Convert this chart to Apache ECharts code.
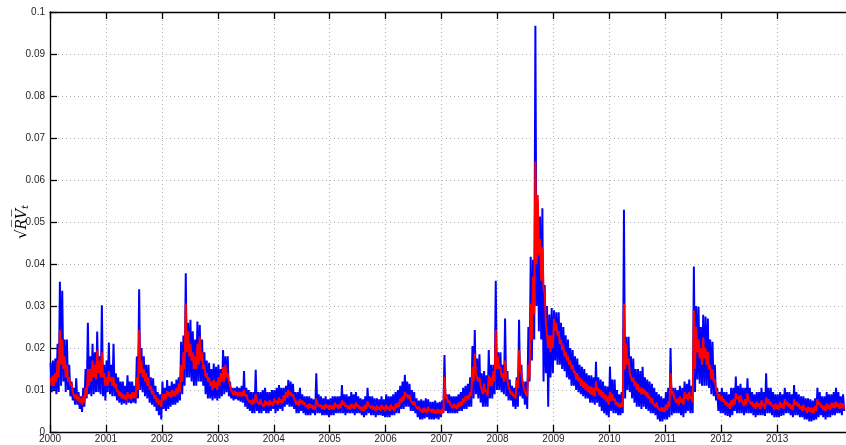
<!DOCTYPE html>
<html><head><meta charset="utf-8">
<script src="https://cdn.jsdelivr.net/npm/echarts@6/dist/echarts.min.js"></script>
<style>html,body{margin:0;padding:0;background:#fff}#c{width:846px;height:445px}</style>
</head><body><div id="c"></div>
<script>
// Tick labels
const yearTicks = [2000,2001,2002,2003,2004,2005,2006,2007,2008,2009,2010,2011,2012,2013];
// Readings per year: 24 half-months, each read as (top, bottom) of the band
const perYear = 48;

const blue2000 = [.0165,.0095,.017,.010,.0175,.009,.021,.0095,.0358,.011,.0336,.012,.022,.0095,.022,.010,.016,.0085,.012,.0075,.0105,.0065,.0128,.0065,.0095,.0055,.0085,.0048,.0105,.006,.015,.008,.026,.009,.018,.0085,.021,.009,.019,.0095,.0239,.0095,.018,.009,.0302,.0085,.016,.0075];
const blue2001 = [.017,.0095,.0213,.009,.016,.0085,.021,.0085,.014,.0075,.013,.007,.012,.0065,.012,.0068,.011,.0065,.0135,.007,.012,.0068,.012,.007,.011,.0068,.018,.008,.034,.010,.020,.0095,.018,.0085,.016,.008,.016,.007,.013,.0065,.0128,.006,.011,.005,.0095,.004,.009,.003];
const blue2002 = [.012,.0055,.0105,.005,.0124,.0055,.011,.006,.012,.0065,.0115,.0065,.0125,.007,.013,.0075,.0215,.009,.023,.011,.0378,.013,.026,.013,.0267,.012,.024,.011,.022,.011,.0263,.012,.0255,.012,.022,.011,.019,.009,.017,.008,.0165,.008,.015,.0075,.0163,.008,.0155,.0075];
const blue2003 = [.016,.008,.015,.0085,.0195,.009,.018,.0095,.018,.0085,.012,.008,.0105,.0075,.0105,.0078,.0108,.0075,.0105,.0072,.011,.007,.0145,.006,.0105,.0055,.010,.005,.0095,.0045,.0095,.0045,.0148,.005,.0095,.0045,.0095,.0045,.010,.005,.0105,.0045,.0095,.0045,.0095,.005,.010,.0055];
const blue2004 = [.010,.0045,.0105,.005,.0112,.0055,.0105,.005,.0105,.006,.011,.0065,.0124,.006,.012,.006,.0115,.0055,.0095,.0045,.0095,.0045,.0105,.005,.009,.0045,.0085,.004,.0085,.004,.0085,.004,.008,.0045,.0078,.004,.014,.0045,.009,.0045,.0085,.004,.008,.004,.0085,.004,.0078,.0035];
const blue2005 = [.008,.004,.0085,.004,.0085,.0045,.0085,.0045,.0085,.0045,.0112,.0045,.009,.004,.009,.0045,.0085,.0045,.0095,.0045,.009,.004,.0095,.0045,.0085,.0045,.008,.004,.0078,.0035,.0085,.004,.0105,.0045,.0085,.004,.0085,.004,.008,.0035,.008,.004,.0078,.004,.0085,.0038,.0078,.0035];
const blue2006 = [.009,.0035,.0085,.0035,.0085,.004,.009,.004,.0095,.0045,.010,.0045,.011,.0055,.012,.0055,.0136,.006,.012,.006,.0115,.005,.010,.005,.0095,.0045,.008,.0035,.0075,.003,.0078,.003,.0075,.0032,.008,.0035,.0078,.003,.0072,.003,.0072,.003,.0075,.0032,.007,.003,.0072,.0035];
const blue2007 = [.0075,.0045,.0183,.005,.009,.0045,.009,.0045,.0085,.0045,.0085,.0045,.0085,.0045,.009,.005,.0095,.005,.0105,.0055,.011,.0055,.0115,.006,.013,.006,.0205,.008,.0243,.009,.0175,.008,.0185,.007,.014,.006,.0145,.006,.0135,.006,.0195,.008,.016,.008,.016,.009,.036,.010];
const blue2008 = [.019,.010,.019,.0095,.016,.009,.027,.0085,.0145,.0075,.0125,.0075,.011,.006,.0105,.0055,.013,.006,.0267,.0085,.016,.008,.012,.0065,.012,.0055,.025,.012,.0417,.017,.041,.022,.0967,.030,.055,.024,.0513,.022,.0533,.012,.035,.014,.030,.006,.028,.013,.0295,.014];
const blue2009 = [.029,.017,.0285,.016,.0285,.016,.026,.015,.025,.0145,.023,.013,.022,.0125,.020,.011,.0195,.011,.018,.010,.0175,.0095,.016,.009,.0155,.0085,.015,.008,.014,.008,.0135,.007,.0135,.007,.013,.0065,.0167,.007,.013,.006,.0125,.005,.012,.0045,.011,.004,.0108,.0035];
const blue2010 = [.0156,.005,.0125,.0045,.0125,.0045,.010,.004,.009,.004,.0095,.0045,.0529,.008,.0227,.010,.0227,.0095,.018,.008,.0175,.007,.015,.006,.015,.006,.0145,.0055,.0155,.006,.013,.0055,.0125,.005,.012,.0045,.0115,.0045,.0105,.004,.0095,.003,.009,.0025,.0085,.0025,.008,.003];
const blue2011 = [.0095,.003,.0105,.0035,.020,.004,.0105,.0045,.0105,.0045,.010,.0045,.011,.004,.0105,.0035,.012,.0045,.0115,.005,.0125,.0045,.011,.0045,.0394,.0095,.030,.0125,.0298,.0115,.025,.011,.0279,.011,.0275,.011,.027,.0105,.022,.009,.0215,.0085,.016,.0075,.0105,.005,.0095,.0045];
const blue2012 = [.0105,.0045,.0095,.004,.0095,.0038,.009,.0035,.0105,.004,.0105,.005,.0132,.0045,.011,.0045,.0115,.0045,.0105,.004,.0105,.0045,.0128,.0045,.0105,.0045,.0095,.004,.009,.0035,.0095,.004,.0095,.004,.0105,.004,.0095,.0038,.014,.0045,.0105,.0045,.0105,.004,.0095,.0035,.009,.0035];
const blue2013 = [.009,.0035,.0095,.0038,.009,.004,.0105,.0045,.0095,.0045,.0095,.004,.009,.0035,.0112,.004,.0095,.004,.009,.0035,.0085,.0035,.0085,.003,.008,.003,.008,.0025,.0078,.0025,.0075,.0028,.008,.003,.0105,.0035,.0095,.004,.0085,.0035,.0085,.003,.0095,.0035,.009,.0035,.009,.004];
const blue2014 = [.0095,.004,.0105,.0045,.0095,.0045,.0085,.004,.009,.005];

const red2000 = [.013,.011,.0135,.011,.014,.012,.017,.013,.0243,.016,.022,.015,.018,.013,.016,.012,.013,.011,.0115,.0095,.0095,.008,.009,.0075,.0085,.007,.008,.0065,.0085,.007,.0105,.0085,.015,.011,.015,.012,.017,.013,.016,.0125,.0195,.014,.017,.013,.019,.013,.014,.011];
const red2001 = [.013,.011,.0145,.012,.013,.011,.013,.0105,.0115,.0095,.010,.0085,.0095,.008,.009,.0078,.0088,.0075,.0095,.008,.009,.0078,.0095,.008,.0095,.008,.013,.010,.0243,.014,.017,.013,.015,.012,.014,.011,.013,.010,.011,.009,.0098,.008,.0088,.007,.008,.0065,.0075,.006];
const red2002 = [.009,.0075,.009,.0078,.0098,.0085,.0095,.0082,.010,.0085,.0098,.0085,.0105,.009,.0115,.0095,.016,.012,.019,.015,.0306,.019,.024,.018,.021,.017,.019,.015,.018,.015,.021,.016,.0227,.017,.019,.015,.016,.013,.014,.012,.013,.011,.012,.010,.0125,.0105,.012,.010];
const red2003 = [.013,.011,.014,.012,.0155,.012,.016,.013,.014,.012,.012,.010,.010,.0088,.0098,.0088,.0095,.0085,.0095,.0085,.0095,.0085,.010,.0085,.009,.0078,.008,.007,.0075,.0065,.0078,.0068,.009,.0075,.0075,.0065,.0078,.0068,.007,.006,.0075,.0065,.0072,.0062,.0075,.0065,.0072,.0062];
const red2004 = [.008,.007,.0075,.0065,.0082,.007,.0078,.0068,.0088,.0075,.0095,.0082,.010,.0088,.0095,.0085,.009,.008,.0078,.0065,.0075,.0062,.0078,.0068,.0075,.0065,.007,.006,.0065,.0055,.0068,.0058,.0065,.0055,.0063,.0053,.008,.0068,.007,.006,.0065,.0055,.0063,.0053,.0067,.0057,.0063,.0053];
const red2005 = [.0065,.0055,.0063,.0053,.007,.006,.0065,.0055,.0067,.0057,.0075,.0065,.007,.006,.0065,.0055,.0063,.0053,.0067,.0057,.0065,.0055,.007,.006,.0065,.0055,.006,.005,.006,.005,.0065,.0055,.0073,.0063,.0067,.0057,.0063,.0053,.006,.005,.0063,.0053,.006,.005,.0065,.0055,.006,.005];
const red2006 = [.0065,.0055,.006,.005,.0065,.0055,.006,.005,.0067,.0057,.007,.006,.008,.007,.0085,.0075,.0095,.0085,.009,.008,.0088,.0076,.0075,.0065,.0073,.0063,.0065,.0055,.006,.005,.0055,.0045,.0057,.0047,.0055,.0045,.006,.005,.0055,.0045,.0055,.0045,.0053,.0043,.0055,.0045,.0053,.0043];
const red2007 = [.0055,.0045,.0132,.008,.0085,.007,.0075,.0065,.0067,.0057,.0067,.0057,.0065,.0055,.007,.006,.0073,.0063,.008,.007,.0085,.0075,.0088,.0078,.0095,.0085,.0155,.012,.0187,.014,.014,.012,.013,.011,.011,.009,.0115,.0095,.010,.0085,.0135,.011,.013,.011,.0145,.012,.0243,.015];
const red2008 = [.018,.015,.0155,.013,.014,.012,.017,.013,.0125,.0105,.010,.009,.0095,.0085,.009,.008,.0125,.0105,.0195,.015,.014,.012,.0105,.0095,.0095,.0085,.016,.013,.0306,.022,.037,.028,.0644,.040,.0564,.042,.046,.036,.044,.034,.033,.026,.026,.020,.023,.019,.023,.020];
const red2009 = [.027,.024,.026,.023,.024,.021,.022,.0195,.0205,.018,.019,.017,.018,.016,.017,.015,.016,.014,.0145,.0125,.014,.012,.013,.011,.0125,.0105,.012,.010,.0115,.0095,.011,.009,.0108,.0088,.0105,.0085,.012,.0098,.0105,.0088,.010,.0082,.0095,.0078,.009,.0072,.0085,.0065];
const red2010 = [.0095,.0075,.009,.0075,.008,.0065,.0072,.006,.0068,.0058,.007,.006,.0306,.015,.021,.016,.0175,.014,.014,.012,.013,.011,.012,.010,.0115,.0095,.0105,.009,.0105,.009,.010,.0085,.0095,.008,.0085,.007,.008,.0068,.007,.006,.007,.0058,.0062,.005,.0058,.0048,.0058,.0048];
const red2011 = [.0065,.0052,.0072,.006,.014,.009,.0098,.0082,.0085,.007,.008,.0065,.0085,.007,.008,.0065,.0095,.008,.009,.0075,.0095,.008,.0085,.007,.029,.015,.025,.019,.022,.0175,.020,.016,.0225,.0175,.020,.016,.019,.015,.016,.0125,.015,.012,.0125,.010,.0095,.0078,.009,.0075];
const red2012 = [.0085,.0072,.0078,.0065,.0072,.006,.0068,.0055,.0075,.0062,.0078,.0065,.0092,.0078,.0085,.007,.0088,.0075,.0075,.0062,.0078,.0065,.0092,.0078,.0078,.0065,.0072,.006,.0068,.0055,.0072,.006,.0068,.0055,.0075,.0062,.0068,.0055,.0082,.0068,.0078,.0065,.0072,.006,.0065,.0052,.0068,.0055];
const red2013 = [.0065,.0052,.0072,.0058,.0068,.0055,.0078,.0065,.0072,.006,.0068,.0055,.0065,.0052,.0078,.0065,.0072,.006,.0068,.0055,.0062,.005,.0065,.0052,.0058,.0045,.006,.0048,.0058,.0045,.0058,.0045,.0062,.005,.0078,.0065,.007,.0058,.0065,.0052,.0062,.005,.0068,.0055,.0065,.0052,.007,.0057];
const red2014 = [.007,.0057,.0072,.006,.0068,.0055,.007,.0057,.0068,.0055];

const blueYears = [blue2000,blue2001,blue2002,blue2003,blue2004,blue2005,blue2006,blue2007,blue2008,blue2009,blue2010,blue2011,blue2012,blue2013,blue2014];
const redYears = [red2000,red2001,red2002,red2003,red2004,red2005,red2006,red2007,red2008,red2009,red2010,red2011,red2012,red2013,red2014];

function build(list){
  const out = [];
  list.forEach((arr, i) => {
    const yr = 2000 + i;
    arr.forEach((v, k) => out.push([yr + (k + 0.5) / perYear, v]));
  });
  return out;
}

const chart = echarts.init(document.getElementById('c'), null, {renderer:'canvas'});
const labelFont = {fontFamily:'Liberation Sans, Arial, sans-serif', fontSize:10, color:'#262626'};
const gridLine = {show:true, lineStyle:{color:'#b0b0b0', type:[1,3], width:1}};
chart.setOption({
  animation:false,
  backgroundColor:'#fff',
  grid:{left:50, right:0, top:12, bottom:13, containLabel:false, outerBoundsMode:'none'},
  xAxis:[{
    type:'value', min:2000, max:2014.23, interval:1, position:'bottom',
    axisLine:{show:true, onZero:false, lineStyle:{color:'#000', width:1.3}},
    axisTick:{show:true, inside:true, length:7, customValues:yearTicks, lineStyle:{color:'#000', width:1.3}},
    axisLabel:Object.assign({show:true, margin:2, customValues:yearTicks, formatter:v=>String(Math.round(v))}, labelFont),
    splitLine:gridLine
  },{
    type:'value', min:2000, max:2014.23, interval:1, position:'top',
    axisLine:{show:true, onZero:false, lineStyle:{color:'#000', width:1.3}},
    axisTick:{show:true, inside:true, length:7, customValues:yearTicks, lineStyle:{color:'#000', width:1.3}},
    axisLabel:{show:false},
    splitLine:{show:false}
  }],
  yAxis:{
    type:'value', min:0, max:0.1, interval:0.01,
    axisLine:{show:true, lineStyle:{color:'#000', width:1.3}},
    axisTick:{show:true, inside:true, length:7, lineStyle:{color:'#000', width:1.3}},
    axisLabel:Object.assign({margin:5, formatter:v=>String(+v.toFixed(2))}, labelFont),
    splitLine:gridLine,
    name:'{r|√}{v|R\u0305V\u0305}{s|t}',
    nameLocation:'middle', nameGap:20, nameRotate:90, nameMoveOverlap:false,
    nameTextStyle:{rich:{
      r:{fontFamily:'DejaVu Serif', fontSize:15, color:'#000'},
      v:{fontFamily:'DejaVu Serif', fontStyle:'italic', fontSize:14, color:'#000'},
      s:{fontFamily:'DejaVu Serif', fontStyle:'italic', fontSize:10, color:'#000', verticalAlign:'bottom', padding:[6,0,0,0]}
    }}
  },
  series:[{
    type:'line', name:'RV', data:build(blueYears), showSymbol:false, symbol:'none',
    lineStyle:{color:'#0000ff', width:2}, z:2
  },{
    type:'line', name:'fit', data:build(redYears), showSymbol:false, symbol:'none',
    lineStyle:{color:'#ff0000', width:2}, z:3
  }]
});
</script>
</body></html>
